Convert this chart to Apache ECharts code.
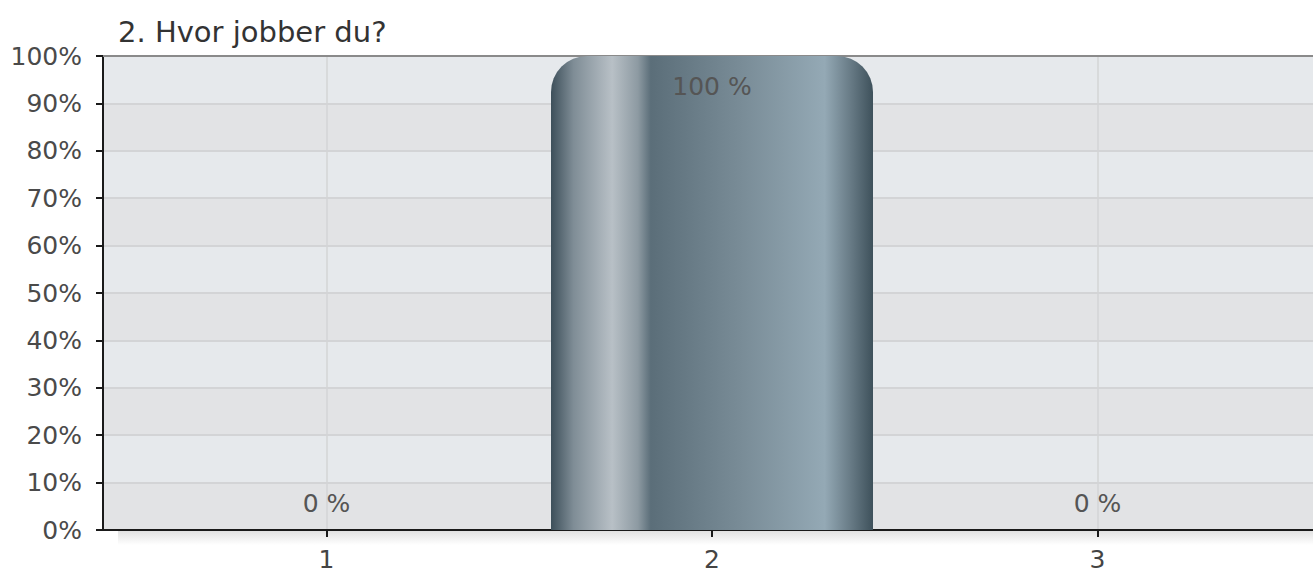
<!DOCTYPE html>
<html>
<head>
<meta charset="utf-8">
<script src="https://cdn.jsdelivr.net/npm/echarts@6/dist/echarts.min.js"></script>
<style>
html,body{margin:0;padding:0;background:#fff;}
#chart{width:1313px;height:577px;}
</style>
</head>
<body>
<div id="chart"></div>
<script>
const titleText = '2. Hvor jobber du?';
const categories = ['1', '2', '3'];
const values = [0, 100, 0];
const yMin = 0, yMax = 100, yStep = 10;

const FONT = '"DejaVu Sans", "Liberation Sans", Arial, sans-serif';
const chart = echarts.init(document.getElementById('chart'), null, {renderer: 'svg'});

const barGradient = new echarts.graphic.LinearGradient(0, 0, 1, 0, [
  {offset: 0.00, color: '#3d4f5a'},
  {offset: 0.07, color: '#7f8d96'},
  {offset: 0.19, color: '#b8c0c6'},
  {offset: 0.27, color: '#8d9aa2'},
  {offset: 0.31, color: '#5b6e79'},
  {offset: 0.60, color: '#7a8d98'},
  {offset: 0.85, color: '#94a9b5'},
  {offset: 0.93, color: '#687b86'},
  {offset: 1.00, color: '#3e515b'}
]);

const option = {
  animation: false,
  backgroundColor: '#ffffff',
  title: {
    text: titleText,
    left: 113, top: 12,
    textStyle: {fontFamily: FONT, fontSize: 29, fontWeight: 'normal', color: '#333'}
  },
  graphic: [{
    type: 'rect', z: 0, silent: true,
    shape: {x: 118, y: 531, width: 1195, height: 14},
    style: {fill: new echarts.graphic.LinearGradient(0, 0, 0, 1, [
      {offset: 0, color: '#e2e2e2'}, {offset: 1, color: '#ffffff'}
    ])}
  }],
  grid: [
    {left: 103, right: 0, top: 56, bottom: 47, show: false, outerBoundsMode: 'none', containLabel: false},
    {left: -59, right: -170, top: 56, bottom: 47, show: false, outerBoundsMode: 'none', containLabel: false}
  ],
  xAxis: [
    {
      gridIndex: 0, type: 'value', min: 0, max: 1, position: 'bottom',
      axisLine: {show: true, onZero: false, lineStyle: {color: '#1a1a1a', width: 2}},
      axisTick: {show: false}, axisLabel: {show: false}, splitLine: {show: false}
    },
    {
      gridIndex: 0, type: 'value', min: 0, max: 1, position: 'top',
      axisLine: {show: true, onZero: false, lineStyle: {color: '#8a8a8a', width: 2}},
      axisTick: {show: false}, axisLabel: {show: false}, splitLine: {show: false}
    },
    {
      gridIndex: 1, type: 'value', min: 0, max: 4, interval: 1, position: 'bottom',
      axisLine: {show: false, onZero: false},
      axisTick: {show: true, length: 7, lineStyle: {color: '#1a1a1a', width: 2}},
      axisLabel: {
        margin: 17, fontFamily: FONT, fontSize: 25, color: '#444',
        showMinLabel: false, showMaxLabel: false,
        formatter: v => (v >= 1 && v <= categories.length) ? categories[v - 1] : ''
      },
      splitLine: {show: true, lineStyle: {color: '#d3d4d6', width: 1.5}}
    }
  ],
  yAxis: [
    {
      gridIndex: 0, type: 'value', min: yMin, max: yMax, interval: yStep,
      axisLine: {show: true, lineStyle: {color: '#1a1a1a', width: 2}},
      axisTick: {show: true, length: 7, lineStyle: {color: '#1a1a1a', width: 2}},
      axisLabel: {margin: 21, fontFamily: FONT, fontSize: 25, color: '#4a4a4a', formatter: '{value}%'},
      splitLine: {show: true, lineStyle: {color: '#d3d4d6', width: 2}},
      splitArea: {show: true, areaStyle: {color: ['#e2e3e5', '#e6e9ec']}}
    },
    {
      gridIndex: 1, type: 'value', min: yMin, max: yMax, interval: yStep,
      show: false
    }
  ],
  series: [{
    type: 'bar',
    xAxisIndex: 2, yAxisIndex: 1,
    barWidth: 322,
    itemStyle: {color: barGradient, borderRadius: [36, 36, 0, 0]},
    data: categories.map((c, i) => ({
      value: [i + 1, values[i]],
      label: values[i] > 50
        ? {show: true, position: 'insideTop', distance: 18}
        : {show: true, position: 'top', distance: 14}
    })),
    label: {
      fontFamily: FONT, fontSize: 25, color: '#555',
      formatter: p => p.value[1] + ' %'
    }
  }]
};
chart.setOption(option);
</script>
</body>
</html>
